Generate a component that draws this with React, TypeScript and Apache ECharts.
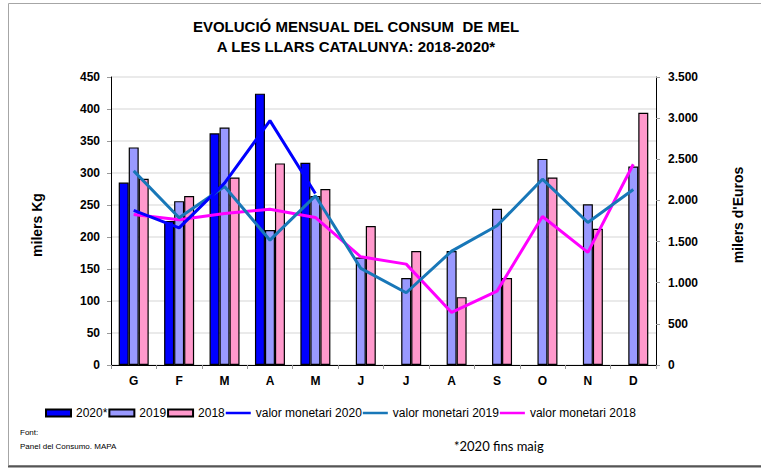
import React, { useEffect, useRef } from "react";
import * as echarts from "echarts";

const months = ["G", "F", "M", "A", "M", "J", "J", "A", "S", "O", "N", "D"];
const kg2020 = [285, 225, 362, 424, 316, null, null, null, null, null, null, null];
const kg2019 = [340, 256, 371, 211, 264, 168, 136, 178, 244, 322, 251, 310];
const kg2018 = [291, 264, 293, 315, 275, 217, 178, 106, 136, 293, 213, 394];
const eur2020 = [1878, 1667, 2210, 2970, 2084, null, null, null, null, null, null, null];
const eur2019 = [2359, 1789, 2169, 1517, 2056, 1174, 878, 1384, 1692, 2258, 1732, 2133];
const eur2018 = [1829, 1764, 1841, 1894, 1793, 1315, 1226, 639, 898, 1805, 1368, 2440];
const leftTicks = { min: 0, max: 450, interval: 50 };
const rightTicks = { min: 0, max: 3500, interval: 500 };

const FONT = "'Liberation Sans', Arial, sans-serif";
const LINE_ICON = "path://M0 0h0.01v0.01H0z M0 2.3h26v2.6H0z M0 7h0.01v0.01H0z";

export default function App() {
  const ref = useRef<HTMLDivElement>(null);
  useEffect(() => {
    const chart = echarts.init(ref.current!, null, { renderer: "svg" });
    const barStyle = (c: string) => ({ color: c, borderColor: "#000", borderWidth: 1.2 });
    chart.setOption({
      animation: false,
      backgroundColor: "#fff",
      textStyle: { fontFamily: FONT },
      grid: { left: 111, right: 105, top: 77, bottom: 103, containLabel: false },
      legend: {
        left: 40,
        top: 402,
        itemWidth: 25,
        itemHeight: 7,
        itemGap: 1,
        textStyle: { fontSize: 12, color: "#000", fontFamily: FONT },
        data: [
          { name: "2020*", icon: "rect" },
          { name: "2019", icon: "rect" },
          { name: "2018", icon: "rect" },
          { name: "valor monetari 2020", icon: LINE_ICON },
          { name: "valor monetari 2019", icon: LINE_ICON },
          { name: "valor monetari 2018", icon: LINE_ICON },
        ],
      },
      xAxis: {
        type: "category",
        data: months,
        axisLine: { lineStyle: { color: "#000", width: 1 } },
        axisTick: { show: true, length: 4, lineStyle: { color: "#999" } },
        axisLabel: { fontWeight: "bold", fontSize: 12, color: "#000", margin: 10 },
      },
      yAxis: [
        {
          type: "value",
          ...leftTicks,
          axisLine: { show: true, lineStyle: { color: "#000" } },
          axisTick: { show: true, length: 4, lineStyle: { color: "#999" } },
          axisLabel: { fontWeight: "bold", fontSize: 12, color: "#000", margin: 11 },
          splitLine: { show: true, lineStyle: { color: "#e3e3e3", width: 1.5 } },
        },
        {
          type: "value",
          ...rightTicks,
          position: "right",
          axisLine: { show: true, lineStyle: { color: "#000" } },
          axisTick: { show: true, length: 4, lineStyle: { color: "#999" } },
          axisLabel: {
            fontWeight: "bold",
            fontSize: 12,
            color: "#000",
            margin: 12,
            formatter: (v: number) => v.toString().replace(/\B(?=(\d{3})+(?!\d))/g, "."),
          },
          splitLine: { show: false },
        },
      ],
      series: [
        { name: "2020*", type: "bar", data: kg2020, barWidth: 10, barGap: "0%", itemStyle: barStyle("#0000FF") },
        { name: "2019", type: "bar", data: kg2019, barWidth: 10, barGap: "0%", itemStyle: barStyle("#9999FF") },
        { name: "2018", type: "bar", data: kg2018, barWidth: 10, barGap: "0%", itemStyle: barStyle("#FF99CC") },
        { name: "valor monetari 2020", type: "line", yAxisIndex: 1, data: eur2020, symbol: "none", lineStyle: { color: "#0000FF", width: 3 }, itemStyle: { color: "#0000FF" }, z: 5 },
        { name: "valor monetari 2019", type: "line", yAxisIndex: 1, data: eur2019, symbol: "none", lineStyle: { color: "#1877B8", width: 3 }, itemStyle: { color: "#1877B8" }, z: 4 },
        { name: "valor monetari 2018", type: "line", yAxisIndex: 1, data: eur2018, symbol: "none", lineStyle: { color: "#FF00FF", width: 3 }, itemStyle: { color: "#FF00FF" }, z: 3 },
      ],
      graphic: [
        { type: "rect", shape: { x: 8.5, y: 3.5, width: 760, height: 462 }, style: { fill: "none", stroke: "#a6a6a6", lineWidth: 1 }, silent: true },
        { type: "line", shape: { x1: 8, y1: 466.5, x2: 761, y2: 466.5 }, style: { stroke: "#555", lineWidth: 2 }, silent: true },
        {
          type: "text", x: 356, y: 16,
          style: {
            text: "EVOLUCIÓ MENSUAL DEL CONSUM  DE MEL\nA LES LLARS CATALUNYA: 2018-2020*",
            align: "center", verticalAlign: "top", font: `bold 15px ${FONT}`, lineHeight: 20, fill: "#000",
          },
        },
        {
          type: "text", x: 37, y: 225, rotation: Math.PI / 2,
          style: { text: "milers Kg", align: "center", verticalAlign: "middle", font: `bold 14px ${FONT}`, fill: "#000" },
        },
        {
          type: "text", x: 738, y: 215, rotation: Math.PI / 2,
          style: { text: "milers d'Euros", align: "center", verticalAlign: "middle", font: `bold 14px ${FONT}`, fill: "#000" },
        },
        { type: "text", x: 20, y: 432, style: { text: "Font:", align: "left", verticalAlign: "middle", font: `8px ${FONT}`, fill: "#000" } },
        { type: "text", x: 20, y: 446, style: { text: "Panel del Consumo. MAPA", align: "left", verticalAlign: "middle", font: `8px ${FONT}`, fill: "#000" } },
        { type: "text", x: 454, y: 446, style: { text: "*2020 fins maig", align: "left", verticalAlign: "middle", font: `13px Lato, 'Open Sans', sans-serif`, fill: "#000" } },
      ],
    });
    return () => chart.dispose();
  }, []);
  return <div ref={ref} style={{ position: "fixed", left: 0, top: 0, width: 761, height: 468 }} />;
}
